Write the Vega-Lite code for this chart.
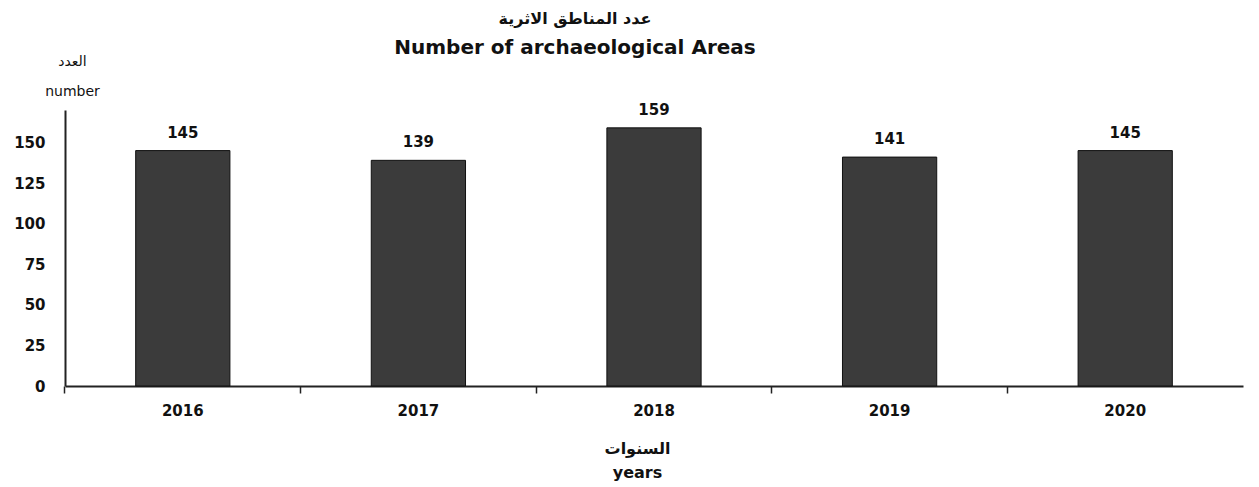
{
  "$schema": "https://vega.github.io/schema/vega-lite/v6.json",
  "width": 1178,
  "height": 276,
  "padding": {"left": 65, "top": 110, "right": 16, "bottom": 101},
  "autosize": {"type": "none"},
  "background": "white",
  "config": {
    "font": "DejaVu Sans",
    "view": {"stroke": null}
  },
  "title": {
    "text": "عدد المناطق الاثرية",
    "subtitle": "Number of archaeological Areas",
    "anchor": "middle",
    "dx": -79,
    "offset": -4,
    "font": "DejaVu Sans",
    "fontSize": 16,
    "fontWeight": "bold",
    "color": "#111",
    "subtitleFont": "DejaVu Sans",
    "subtitleFontSize": 20,
    "subtitleFontWeight": "bold",
    "subtitleColor": "#111",
    "subtitlePadding": 11
  },
  "data": {
    "values": [
      {"year": "2016", "count": 145},
      {"year": "2017", "count": 139},
      {"year": "2018", "count": 159},
      {"year": "2019", "count": 141},
      {"year": "2020", "count": 145}
    ]
  },
  "encoding": {
    "x": {
      "field": "year",
      "type": "nominal",
      "sort": null,
      "scale": {"paddingInner": 0.6, "paddingOuter": 0.3},
      "axis": {
        "title": ["السنوات", "years"],
        "titleFont": "DejaVu Sans",
        "titleFontSize": 16,
        "titleFontWeight": "bold",
        "titleColor": "#111",
        "titleX": 572,
        "titlePadding": 22,
        "titleLineHeight": 24,
        "labelAngle": 0,
        "labelFontSize": 15,
        "labelFontWeight": "bold",
        "labelColor": "#111",
        "labelPadding": 10,
        "bandPosition": -0.75,
        "labelOffset": 0,
        "ticks": true,
        "tickSize": 7,
        "tickColor": "#222",
        "tickWidth": 1.5,
        "domainColor": "#222",
        "domainWidth": 2,
        "grid": false
      }
    },
    "y": {
      "field": "count",
      "type": "quantitative",
      "scale": {"domain": [0, 170], "nice": false},
      "axis": {
        "values": [0, 25, 50, 75, 100, 125, 150],
        "title": ["العدد", "number"],
        "titleAngle": 0,
        "titleX": 7,
        "titleY": -42,
        "titleAlign": "center",
        "titleBaseline": "bottom",
        "titleFontSize": 14,
        "titleFontWeight": "normal",
        "titleColor": "#111",
        "titleLineHeight": 30,
        "labelFontSize": 15,
        "labelFontWeight": "bold",
        "labelColor": "#111",
        "labelPadding": 20,
        "ticks": false,
        "domainColor": "#222",
        "domainWidth": 2,
        "grid": false
      }
    }
  },
  "layer": [
    {
      "mark": {"type": "bar", "color": "#3b3b3b", "stroke": "#111", "strokeWidth": 1}
    },
    {
      "mark": {"type": "text", "baseline": "bottom", "dy": -10, "fontSize": 15, "fontWeight": "bold", "color": "#111"},
      "encoding": {"text": {"field": "count", "type": "quantitative"}}
    }
  ]
}
